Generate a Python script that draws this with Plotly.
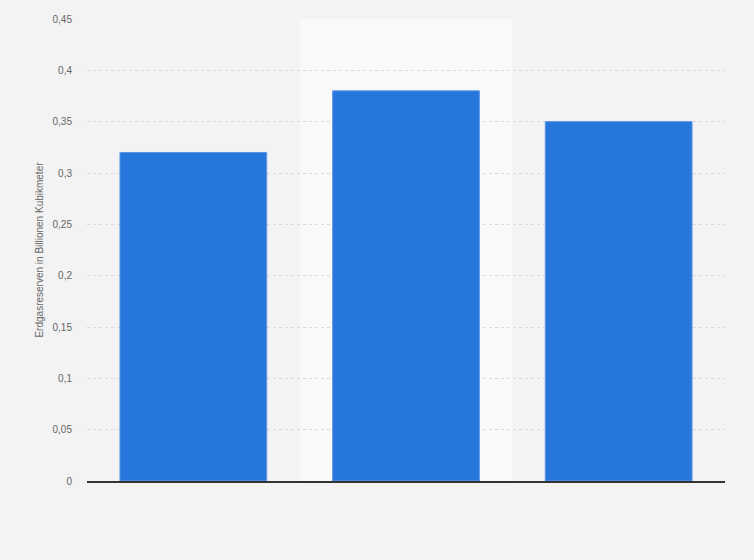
import plotly.graph_objects as go

# Erdgasreserven (Billionen Kubikmeter), category labels are not shown in the source
categories = ["A", "B", "C"]
values = [0.32, 0.38, 0.35]
y_ticks = [0, 0.05, 0.1, 0.15, 0.2, 0.25, 0.3, 0.35, 0.4, 0.45]
highlighted = "B"

fig = go.Figure()
fig.add_trace(go.Bar(
    x=categories,
    y=values,
    width=0.69,
    marker=dict(color="#2776db", line=dict(color="#5a95e4", width=1)),
    hoverinfo="skip",
))

# hover band on the middle category
idx = categories.index(highlighted)
fig.add_shape(type="rect", xref="x", yref="paper",
              x0=idx - 0.5, x1=idx + 0.5, y0=0, y1=1,
              fillcolor="#f9f9f9", line=dict(width=0), layer="below")

fig.update_layout(
    width=754, height=560,
    margin=dict(l=87, r=29, t=19, b=79),
    paper_bgcolor="#f3f3f3",
    plot_bgcolor="#f3f3f3",
    separators=",.",
    showlegend=False,
    font=dict(family="Liberation Sans, Arial, sans-serif", size=10, color="#666666"),
    bargap=0.31,
)
fig.update_xaxes(
    showticklabels=False,
    showgrid=False,
    showline=True,
    linecolor="#333333",
    linewidth=1.5,
    zeroline=False,
)
fig.update_yaxes(
    range=[0, 0.45],
    tickvals=y_ticks,
    showgrid=True,
    gridcolor="#dadada",
    griddash="dot",
    gridwidth=1,
    zeroline=False,
    ticklabelstandoff=14,
    title=dict(text="Erdgasreserven in Billionen Kubikmeter",
               font=dict(size=10, color="#666666"), standoff=7),
)

fig.write_html("out.html", config={"displayModeBar": False},
               post_script="document.body.style.margin='0';")
